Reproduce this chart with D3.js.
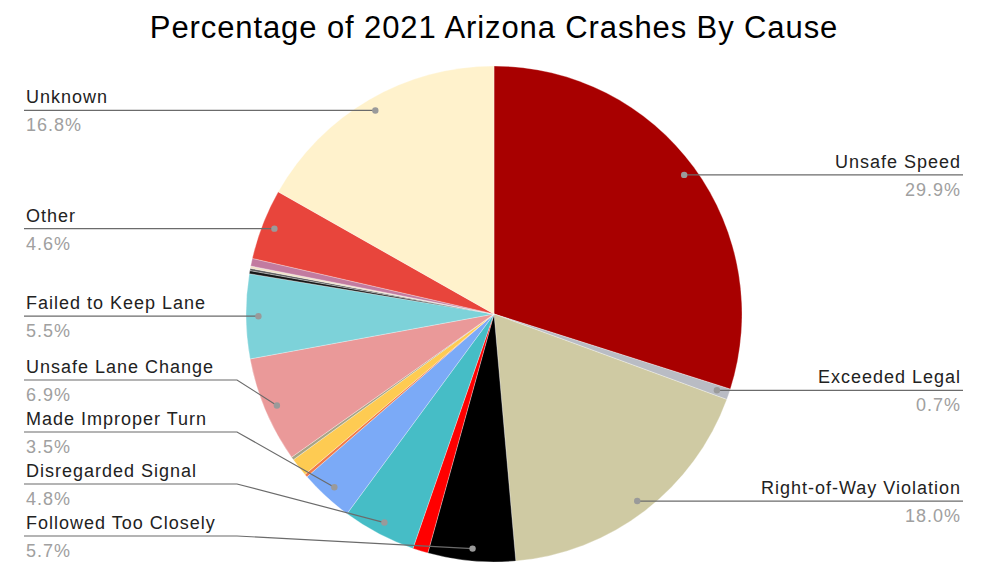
<!DOCTYPE html>
<html>
<head>
<meta charset="utf-8">
<script src="https://cdn.jsdelivr.net/npm/d3@7"></script>
<style>
  html, body { margin: 0; padding: 0; background: #ffffff; }
  svg { display: block; }
</style>
</head>
<body>
<svg id="chart" width="1005" height="583"></svg>
<script>
// ---- data (clockwise from 12 o'clock) ----
const categories = [
  "Unsafe Speed", "Exceeded Legal", "Right-of-Way Violation", "Followed Too Closely",
  "Unlabeled A", "Disregarded Signal", "Made Improper Turn", "Unlabeled B",
  "Unlabeled C", "Unlabeled D", "Unsafe Lane Change", "Failed to Keep Lane",
  "Unlabeled E", "Unlabeled F", "Unlabeled G", "Unlabeled H", "Other", "Unknown"
];
const values = [29.9, 0.7, 18.0, 5.7, 1.0, 4.8, 3.5, 0.2, 1.2, 0.2, 6.9, 5.5, 0.2, 0.15, 0.15, 0.5, 4.6, 16.8];
const showLabel = [true, true, true, true, false, true, true, false, false, false, true, true, false, false, false, false, true, true];
const colors = [
  "#a80000", "#b9bcc4", "#cfcaa3", "#000000", "#ff0000", "#46bdc6", "#7baaf7", "#f07a4a",
  "#fecb52", "#a7a486", "#ea9999", "#7dd2d9", "#161616", "#5e5e5e", "#f2e2c6", "#c27ba0",
  "#e8453c", "#fff2cc"
];
const title = "Percentage of 2021 Arizona Crashes By Cause";

// ---- layout ----
const W = 1005, H = 583;
const cx = 494, cy = 314, R = 248;
const svg = d3.select("#chart");

svg.append("text")
  .attr("x", 494).attr("y", 38)
  .attr("text-anchor", "middle")
  .attr("font-family", "Liberation Sans, Arial, sans-serif")
  .attr("font-size", 31)
  .attr("letter-spacing", 0.9)
  .attr("fill", "#000")
  .text(title);

const data = categories.map((c, i) => ({ name: c, value: values[i], color: colors[i], label: showLabel[i] }));

const pie = d3.pie().value(d => d.value).sort(null);
const arcs = pie(data);
const arc = d3.arc().innerRadius(0).outerRadius(R);

const g = svg.append("g").attr("transform", `translate(${cx},${cy})`);
g.selectAll("path.slice")
  .data(arcs)
  .enter().append("path")
  .attr("class", "slice")
  .attr("d", arc)
  .attr("fill", d => d.data.color)
  .attr("stroke", "#ffffff")
  .attr("stroke-opacity", 0.5)
  .attr("stroke-width", 0.6);

// ---- labels ----
const dotArc = d3.arc().innerRadius(R * 0.95).outerRadius(R * 0.95);
const labeled = arcs.filter(d => d.data.label).map(d => {
  const [x, y] = dotArc.centroid(d);
  const mid = (d.startAngle + d.endAngle) / 2;
  return { d, dx: cx + x, dy: cy + y, right: mid < Math.PI, ly: cy + y };
});

// resolve left-side overlaps (push upward from bottom)
const left = labeled.filter(l => !l.right).sort((a, b) => b.dy - a.dy);
const maxY = 536, gap = 52;
let prev = null;
left.forEach(l => {
  let y = Math.min(l.dy, maxY);
  if (prev !== null) y = Math.min(y, prev - gap);
  l.ly = y; prev = y;
});

const fontFam = "Liberation Sans, Arial, sans-serif";
const lineColor = "#6b6b6b";
const lg = svg.append("g");

labeled.forEach(l => {
  const pct = l.d.data.value.toFixed(1) + "%";
  if (l.right) {
    const x2 = 963;
    lg.append("path")
      .attr("d", d3.line()([[l.dx, l.dy], [x2, l.ly]]))
      .attr("fill", "none").attr("stroke", lineColor).attr("stroke-width", 1.2);
    lg.append("text").attr("x", 961).attr("y", l.ly - 7)
      .attr("text-anchor", "end").attr("font-family", fontFam).attr("font-size", 18)
      .attr("letter-spacing", 1).attr("fill", "#222").text(l.d.data.name);
    lg.append("text").attr("x", 961).attr("y", l.ly + 21)
      .attr("text-anchor", "end").attr("font-family", fontFam).attr("font-size", 18)
      .attr("letter-spacing", 1).attr("fill", "#a0a0a0").text(pct);
  } else {
    const pts = Math.abs(l.ly - l.dy) < 1
      ? [[24, l.ly], [l.dx, l.dy]]
      : [[24, l.ly], [237, l.ly], [l.dx, l.dy]];
    lg.append("path")
      .attr("d", d3.line()(pts))
      .attr("fill", "none").attr("stroke", lineColor).attr("stroke-width", 1.2);
    lg.append("text").attr("x", 26).attr("y", l.ly - 7)
      .attr("font-family", fontFam).attr("font-size", 18)
      .attr("letter-spacing", 1).attr("fill", "#222").text(l.d.data.name);
    lg.append("text").attr("x", 26).attr("y", l.ly + 21)
      .attr("font-family", fontFam).attr("font-size", 18)
      .attr("letter-spacing", 1).attr("fill", "#a0a0a0").text(pct);
  }
  lg.append("circle").attr("cx", l.dx).attr("cy", l.dy).attr("r", 3.2)
    .attr("fill", "#9a9a9a");
});
</script>
</body>
</html>
